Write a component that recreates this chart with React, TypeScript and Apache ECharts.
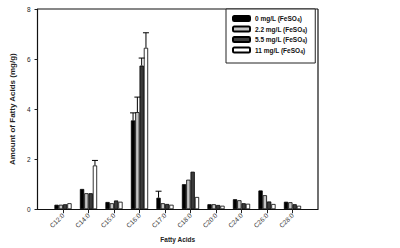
import React, { useEffect, useRef } from "react";
import * as echarts from "echarts";

const categories = ["C12:0", "C14:0", "C15:0", "C16:0", "C17:0", "C18:0", "C20:0", "C24:0", "C26:0", "C28:0"];
const seriesNames = ["0 mg/L (FeSO4)", "2.2 mg/L (FeSO4)", "5.5 mg/L (FeSO4)", "11 mg/L (FeSO4)"];
const values0 = [0.18, 0.81, 0.29, 3.55, 0.46, 1.0, 0.2, 0.4, 0.75, 0.3];
const values1 = [0.18, 0.64, 0.24, 3.88, 0.24, 1.18, 0.2, 0.36, 0.56, 0.28];
const values2 = [0.2, 0.64, 0.35, 5.74, 0.21, 1.5, 0.17, 0.24, 0.31, 0.2];
const values3 = [0.24, 1.75, 0.3, 6.45, 0.18, 0.49, 0.14, 0.22, 0.21, 0.14];
const errors0 = [0, 0, 0, 0.3, 0.26, 0, 0, 0, 0, 0];
const errors1 = [0, 0, 0, 0.6, 0, 0, 0, 0, 0, 0];
const errors2 = [0, 0, 0, 0.3, 0, 0, 0, 0, 0, 0];
const errors3 = [0, 0.2, 0, 0.6, 0, 0, 0, 0, 0, 0];
const yTicks = [0, 2, 4, 6, 8];

const allValues = [values0, values1, values2, values3];
const allErrors = [errors0, errors1, errors2, errors3];
const colors = ["#000000", "#c4c4c4", "#3c3c3c", "#ffffff"];
const BW = 4.3;
const FONT = "Liberation Sans, Arial, sans-serif";

export default function App() {
  const ref = useRef<HTMLDivElement>(null);
  useEffect(() => {
    if (!ref.current) return;
    const chart = echarts.init(ref.current, null, { renderer: "svg" });
    const axisData = ["", ...categories, ""];
    const barSeries = allValues.map((vals, s) => ({
      type: "bar",
      name: seriesNames[s],
      data: vals.map((v, i) => [i + 1, v]),
      barWidth: BW,
      barGap: "0%",
      itemStyle: { color: colors[s], borderColor: "#000", borderWidth: 0.8 },
      z: 2,
    }));
    const errSeries = allErrors.map((errs, s) => ({
      type: "custom",
      name: "err" + s,
      data: errs
        .map((e, i) => [i + 1, allValues[s][i], e])
        .filter((d) => d[2] > 0),
      z: 3,
      renderItem: (params: any, api: any) => {
        const xi = api.value(0);
        const v = api.value(1);
        const e = api.value(2);
        const base = api.coord([xi, v]);
        const top = api.coord([xi, v + e]);
        const x = base[0] + (s - 1.5) * BW;
        return {
          type: "group",
          children: [
            { type: "line", shape: { x1: x, y1: base[1], x2: x, y2: top[1] }, style: { stroke: "#000", lineWidth: 1 } },
            { type: "line", shape: { x1: x - 3, y1: top[1], x2: x + 3, y2: top[1] }, style: { stroke: "#000", lineWidth: 1 } },
          ],
        };
      },
    }));
    const frameSeries = {
      type: "custom",
      name: "frame",
      data: [[1, 0]],
      z: 1,
      silent: true,
      renderItem: (params: any, api: any) => {
        const p0 = api.coord([0, 0]);
        const p1 = api.coord([axisData.length - 1, yTicks[yTicks.length - 1]]);
        return {
          type: "group",
          children: [
            { type: "line", shape: { x1: p0[0], y1: p1[1], x2: p1[0], y2: p1[1] }, style: { stroke: "#111", lineWidth: 1.2 } },
            { type: "line", shape: { x1: p1[0], y1: p1[1], x2: p1[0], y2: p0[1] }, style: { stroke: "#111", lineWidth: 1.2 } },
          ],
        };
      },
    };
    chart.setOption({
      animation: false,
      textStyle: { fontFamily: FONT },
      grid: { left: 30, top: 9, width: 288, height: 203 },
      legend: {
        data: seriesNames,
        orient: "vertical",
        left: 226,
        top: 9,
        itemWidth: 17,
        itemHeight: 5,
        itemGap: 3,
        padding: [6, 8, 9, 6],
        backgroundColor: "#fff",
        borderColor: "#222",
        borderWidth: 1,
        selectedMode: false,
        z: 10,
        formatter: (name: string) => {
          const base = name.replace("(FeSO4)", "(FeSO");
          return `{a|${base}}{s|4}{a|)}`;
        },
        textStyle: {
          fontFamily: FONT,
          color: "#111",
          rich: {
            a: { fontSize: 6.5, fontWeight: "bold", lineHeight: 8, fontFamily: FONT, color: "#111" },
            s: { fontSize: 5, fontWeight: "bold", verticalAlign: "bottom", lineHeight: 5, fontFamily: FONT, color: "#111" },
          },
        },
      },
      xAxis: {
        type: "category",
        data: axisData,
        boundaryGap: false,
        name: "Fatty Acids",
        nameLocation: "middle",
        nameGap: 22,
        nameTextStyle: { fontSize: 6.5, fontWeight: "bold", color: "#222", fontFamily: FONT },
        axisLine: { onZero: false, lineStyle: { color: "#111", width: 1.2 } },
        axisTick: {
          length: 4,
          lineStyle: { color: "#222" },
          interval: (index: number) => index > 0 && index < axisData.length - 1,
        },
        axisLabel: {
          rotate: 45,
          fontSize: 6.5,
          margin: 5,
          color: "#333",
          fontFamily: FONT,
          interval: 0,
        },
        splitLine: { show: false },
      },
      yAxis: {
        type: "value",
        min: yTicks[0],
        max: yTicks[yTicks.length - 1],
        interval: 2,
        name: "Amount of Fatty Acids (mg/g)",
        nameLocation: "middle",
        nameGap: 17,
        nameTextStyle: { fontSize: 8, fontWeight: "bold", color: "#222", fontFamily: FONT },
        axisLine: { show: true, onZero: false, lineStyle: { color: "#111", width: 1.2 } },
        axisTick: { show: true, length: 3, lineStyle: { color: "#222" } },
        axisLabel: { fontSize: 6.5, margin: 7, color: "#222", fontFamily: FONT },
        splitLine: { show: false },
      },
      series: [frameSeries, ...barSeries, ...errSeries],
    });
    return () => chart.dispose();
  }, []);
  return (
    <div
      ref={ref}
      style={{ position: "absolute", left: 0, top: 0, width: 400, height: 248, background: "#fff" }}
    />
  );
}
